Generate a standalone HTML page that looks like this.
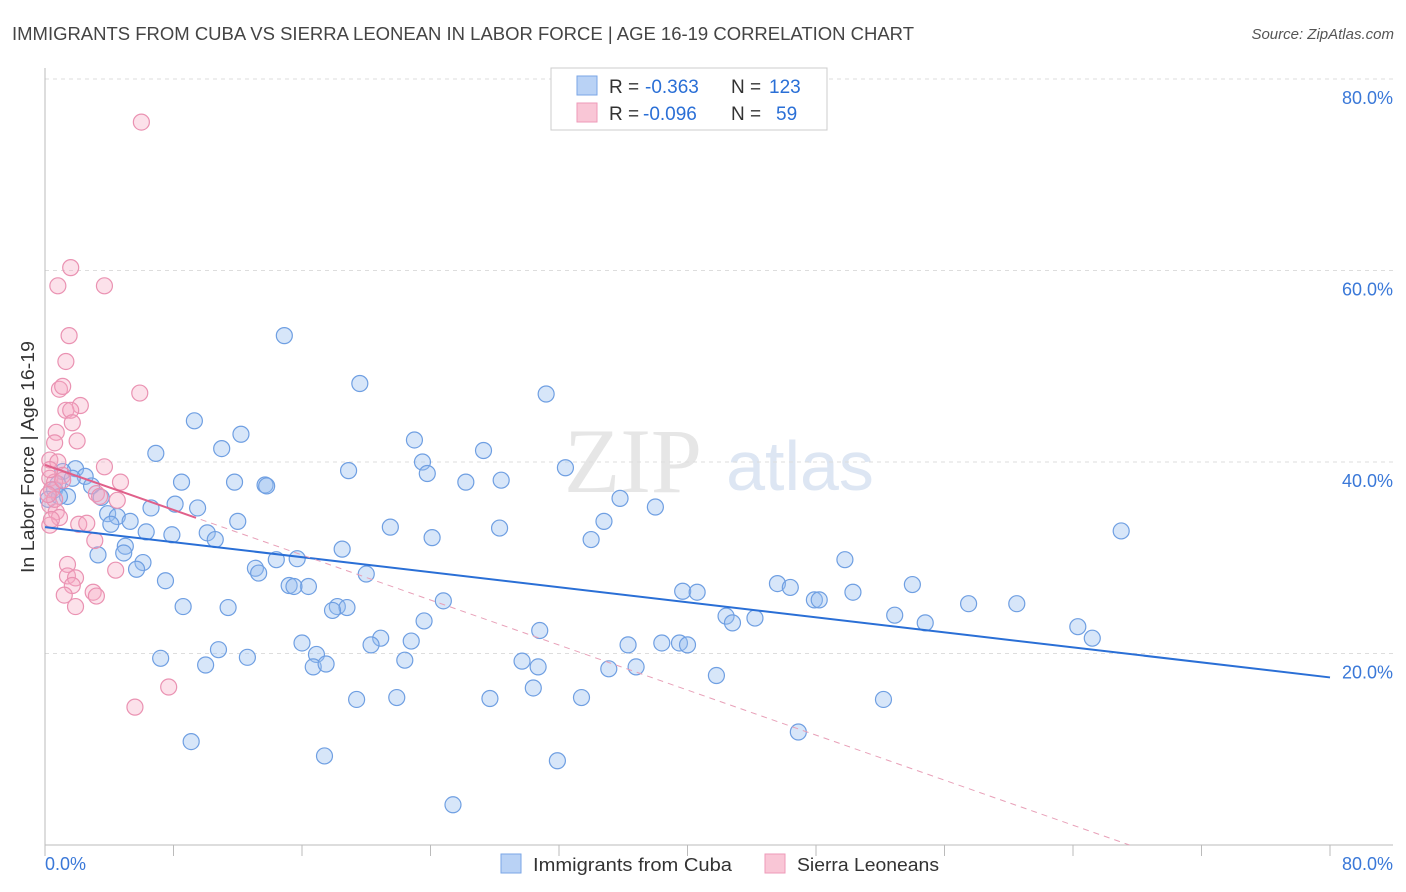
<!DOCTYPE html>
<html><head><meta charset="utf-8">
<style>
body{margin:0;background:#fff;font-family:"Liberation Sans",sans-serif;}
svg{display:block}
</style></head>
<body>
<svg id="chart" width="1406" height="892" xmlns="http://www.w3.org/2000/svg">
<text x="12" y="40" font-size="18" fill="#444" textLength="902" lengthAdjust="spacingAndGlyphs">IMMIGRANTS FROM CUBA VS SIERRA LEONEAN IN LABOR FORCE | AGE 16-19 CORRELATION CHART</text>
<text x="1394" y="39" font-size="15" fill="#555" font-style="italic" text-anchor="end">Source: ZipAtlas.com</text>
<g>
<text x="633" y="492" font-size="92" fill="#e6e6e6" font-family="Liberation Serif,serif" text-anchor="middle">ZIP</text>
<text x="800" y="490" font-size="70" fill="#dde6f3" text-anchor="middle">atlas</text>
</g>
<g id="grid"></g>
<g id="axes"></g>
<g id="marks"></g>
<text transform="translate(34,457) rotate(-90)" font-size="18" fill="#333" text-anchor="middle" textLength="232" lengthAdjust="spacingAndGlyphs">In Labor Force | Age 16-19</text>
<g>
<rect x="551" y="68" width="276" height="62" fill="#fff" stroke="#ccc"/>
<rect x="577" y="76" width="20" height="19" fill="#b9d2f5" stroke="#7aa6e6"/>
<rect x="577" y="103" width="20" height="19" fill="#f9c6d6" stroke="#ee9ab8"/>
<text x="609" y="93" font-size="19" fill="#333">R =</text>
<text x="645" y="93" font-size="19" fill="#2a6fd6">-0.363</text>
<text x="731" y="93" font-size="19" fill="#333">N =</text>
<text x="769" y="93" font-size="19" fill="#2a6fd6">123</text>
<text x="609" y="120" font-size="19" fill="#333">R =</text>
<text x="643" y="120" font-size="19" fill="#2a6fd6">-0.096</text>
<text x="731" y="120" font-size="19" fill="#333">N =</text>
<text x="776" y="120" font-size="19" fill="#2a6fd6">59</text>
</g>
<g>
<rect x="501" y="854" width="20" height="19" fill="#b9d2f5" stroke="#7aa6e6"/>
<text x="533" y="871" font-size="18" fill="#333" textLength="199" lengthAdjust="spacingAndGlyphs">Immigrants from Cuba</text>
<rect x="765" y="854" width="20" height="19" fill="#f9c6d6" stroke="#ee9ab8"/>
<text x="797" y="871" font-size="18" fill="#333" textLength="142" lengthAdjust="spacingAndGlyphs">Sierra Leoneans</text>
</g>
</svg>
<script>
const yTicks=[20,40,60,80];
const yTickLabels=["20.0%","40.0%","60.0%","80.0%"];
const xTickVals=[0,8,16,24,32,40,48,56,64,72,80];
const cubaX=[14.9,19.6,31.2,9.3,12.2,11.0,6.9,23.0,27.3,23.5,18.9,32.4,23.8,8.5,11.8,13.7,13.8,26.2,28.4,1.9,1.1,2.5,2.9,0.8,0.6,1.4,3.5,8.1,9.5,6.6,35.8,38.0,3.9,4.5,5.3,4.1,12.0,21.5,28.3,34.8,6.3,7.9,10.1,10.6,24.1,34.0,5.0,4.9,3.3,18.5,67.0,6.1,5.7,13.1,13.3,14.4,15.7,20.0,49.8,7.5,15.2,16.4,15.5,8.6,11.4,18.2,18.8,17.9,24.8,23.6,30.8,39.7,40.6,45.6,46.4,47.9,48.2,50.3,54.0,57.5,60.5,64.3,65.2,42.4,42.8,44.2,52.9,54.8,20.9,20.3,22.8,16.0,16.9,36.3,38.4,39.5,40.0,7.2,10.8,12.6,10.0,16.7,17.5,22.4,29.7,30.7,35.1,36.8,41.8,30.4,19.4,21.9,27.7,33.4,52.2,9.1,17.4,46.9,31.9,25.4,0.2,0.9,1.7];
const cubaY=[53.2,48.2,47.1,44.3,42.9,41.4,40.9,42.3,41.2,40.0,39.1,39.4,38.8,37.9,37.9,37.6,37.5,37.9,38.1,39.3,39.0,38.5,37.5,37.7,37.1,36.4,36.3,35.6,35.2,35.2,36.2,35.3,34.6,34.3,33.8,33.5,33.8,33.2,33.1,33.8,32.7,32.4,32.6,31.9,32.1,31.9,31.2,30.5,30.3,30.9,32.8,29.5,28.8,28.9,28.4,29.8,29.9,28.3,29.8,27.6,27.1,27.0,27.0,24.9,24.8,24.9,24.8,24.5,25.5,23.4,22.4,26.5,26.4,27.3,26.9,25.6,25.6,26.4,27.2,25.2,25.2,22.8,21.6,23.9,23.2,23.7,24.0,23.2,21.6,20.9,21.3,21.1,19.9,20.9,21.1,21.1,20.9,19.5,20.4,19.6,18.8,18.6,18.9,19.3,19.2,18.6,18.4,18.6,17.7,16.4,15.2,15.4,15.3,15.4,15.2,10.8,9.3,11.8,8.8,4.2,36.1,36.4,38.3];
const sierraX=[6.0,1.6,0.8,3.7,1.5,1.3,0.9,1.1,5.9,2.2,1.3,1.6,1.7,0.7,2.0,0.6,0.3,0.8,3.7,1.1,0.3,0.6,4.7,0.4,3.2,3.4,4.5,0.3,0.7,0.9,0.3,2.1,2.6,3.1,1.4,1.4,1.9,1.7,3.0,1.2,3.2,1.9,4.4,7.7,5.6,0.4,0.3,0.6,1.1,0.2];
const sierraY=[75.5,60.3,58.4,58.4,53.2,50.5,47.6,47.9,47.2,45.9,45.4,45.4,44.1,43.1,42.2,42.0,40.2,40.0,39.5,38.6,38.3,37.9,37.9,37.1,36.7,36.4,36.0,35.5,34.8,34.2,33.4,33.5,33.6,31.8,29.3,28.1,27.9,27.1,26.4,26.1,26.0,24.9,28.7,16.5,14.4,34.0,39.2,36.1,38.1,36.6];
const cubaTrend=[33.2,17.5];
const sierraTrend=[39.7,-0.588];
const NS="http://www.w3.org/2000/svg";
const X0=45,X1=1330,Y0=845,Y80=79;
const sx=v=>X0+v*(X1-X0)/80;
const sy=v=>Y0-v*(Y0-Y80)/80;
function mk(tag,attrs,parent){const e=document.createElementNS(NS,tag);for(const k in attrs)e.setAttribute(k,attrs[k]);parent.appendChild(e);return e;}
const grid=document.getElementById('grid'),axes=document.getElementById('axes'),marks=document.getElementById('marks');
yTicks.forEach((t,i)=>{
 const l=mk('line',{x1:X0,x2:1393,y1:sy(t),y2:sy(t),stroke:'#ddd','stroke-dasharray':'4,4'},grid);
 
 
 const tx=mk('text',{x:1393,y:sy(t)+25,'font-size':18,fill:'#3a78d8','text-anchor':'end'},axes);
 tx.textContent=yTickLabels[i];
 
 
});
const ax=mk('line',{x1:X0,x2:X0,y1:68,y2:Y0,stroke:'#bbb'},axes);


const bx=mk('line',{x1:X0,x2:1393,y1:Y0,y2:Y0,stroke:'#bbb'},axes);


xTickVals.forEach(t=>{
 const l=mk('line',{x1:sx(t),x2:sx(t),y1:Y0,y2:Y0+11,stroke:'#bbb'},axes);
 
 
});
const xl=mk('text',{x:45,y:870,'font-size':18,fill:'#3a78d8'},axes);xl.textContent='0.0%';


const xr=mk('text',{x:1393,y:870,'font-size':18,fill:'#3a78d8','text-anchor':'end'},axes);xr.textContent='80.0%';


cubaX.forEach((v,i)=>{
 const c=mk('circle',{cx:sx(v),cy:sy(cubaY[i]),r:8,fill:'rgba(150,190,240,0.38)',stroke:'#6f9fe2','stroke-width':1.2},marks);
 
 
});
sierraX.forEach((v,i)=>{
 const c=mk('circle',{cx:sx(v),cy:sy(sierraY[i]),r:8,fill:'rgba(245,170,195,0.35)',stroke:'#ea92b2','stroke-width':1.2},marks);
 
 
});
const bt=mk('line',{x1:sx(0),y1:sy(cubaTrend[0]),x2:sx(80),y2:sy(cubaTrend[1]),stroke:'#2a6fd6','stroke-width':2},marks);


const xz=-sierraTrend[0]/sierraTrend[1];
const pd=mk('line',{x1:sx(0),y1:sy(sierraTrend[0]),x2:sx(xz),y2:sy(0),stroke:'#e8a0b8','stroke-width':1,'stroke-dasharray':'6,5'},marks);


const ps=mk('line',{x1:sx(0),y1:sy(sierraTrend[0]),x2:sx(9.4),y2:sy(sierraTrend[0]+sierraTrend[1]*9.4),stroke:'#e0608a','stroke-width':2},marks);


</script>
</body></html>
